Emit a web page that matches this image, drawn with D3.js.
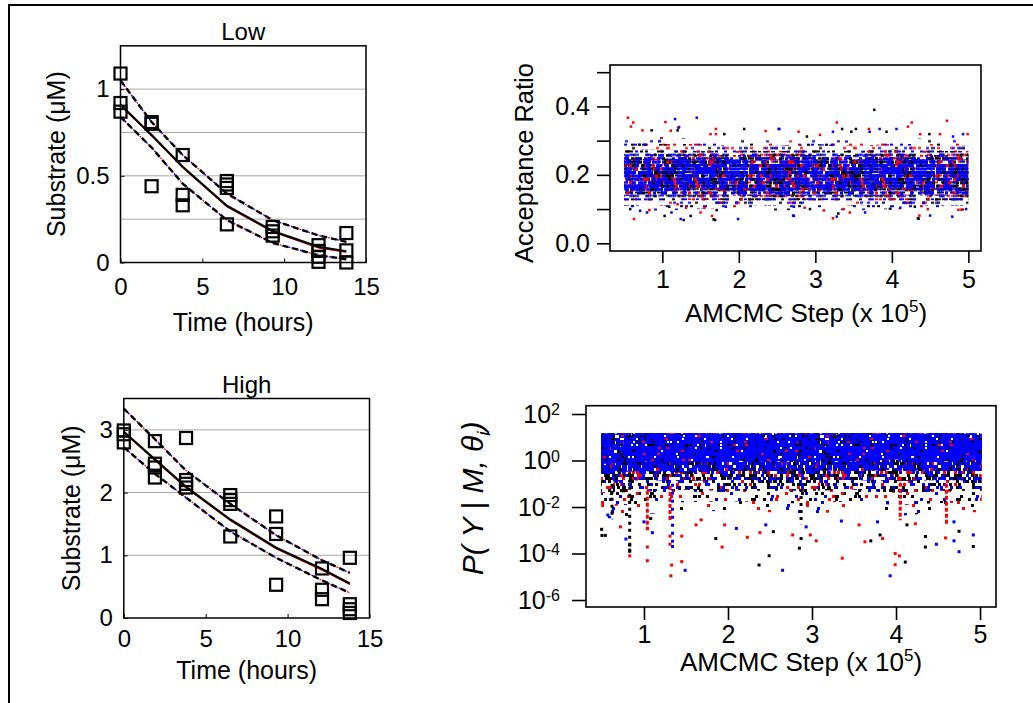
<!DOCTYPE html>
<html>
<head>
<meta charset="utf-8">
<script src="https://d3js.org/d3.v7.min.js"></script>
<style>
  body { margin: 0; background: #fff; }
  svg { display: block; font-family: "Liberation Sans", Arial, sans-serif; }
</style>
</head>
<body>
<script>
// ---- substrate panels (Low / High) ----
const lowTimes = [0, 1.9, 3.8, 6.5, 9.3, 12.1, 13.8];
const lowMean  = [0.91, 0.735, 0.552, 0.327, 0.182, 0.09, 0.065];
const lowUpper = [1.05, 0.81, 0.62, 0.398, 0.244, 0.156, 0.119];
const lowLower = [0.84, 0.663, 0.455, 0.245, 0.113, 0.042, 0.019];
const lowObs = [[0,1.09],[0,0.92],[0,0.87],[1.9,0.81],[1.9,0.80],[1.9,0.44],[3.8,0.62],[3.8,0.39],
  [3.8,0.33],[6.5,0.47],[6.5,0.45],[6.5,0.43],[6.5,0.22],[9.3,0.205],[9.3,0.18],[9.3,0.155],
  [12.1,0.1],[12.1,0.067],[12.1,0.033],[12.1,0.004],[13.8,0.17],[13.8,0.07],[13.8,0.0]];

const highTimes = [0, 1.9, 3.8, 6.5, 9.3, 12.1, 13.8];
const highMean  = [2.97, 2.53, 2.09, 1.57, 1.12, 0.78, 0.55];
const highUpper = [3.34, 2.85, 2.35, 1.82, 1.32, 0.92, 0.72];
const highLower = [2.72, 2.3, 1.92, 1.38, 0.96, 0.6, 0.4];
const highObs = [[0,2.99],[0,2.93],[0,2.8],[1.9,2.82],[1.9,2.46],[1.9,2.4],[1.9,2.24],[3.8,2.87],
  [3.8,2.2],[3.8,2.14],[3.8,2.08],[6.5,1.96],[6.5,1.88],[6.5,1.82],[6.5,1.3],[9.3,1.62],[9.3,1.34],
  [9.3,0.53],[12.1,0.79],[12.1,0.45],[12.1,0.3],[13.8,0.96],[13.8,0.22],[13.8,0.14],[13.8,0.08]];

const timeTicks = [0, 5, 10, 15];

// ---- acceptance ratio panel: nested density envelopes of the sample cloud ----
const accBandX = [0.5, 1.0, 1.5, 2.0, 2.5, 3.0, 3.5, 4.0, 4.5, 5.0];
const accHi1 = [0.315, 0.31, 0.305, 0.305, 0.3, 0.305, 0.3, 0.31, 0.305, 0.305];
const accLo1 = [0.095, 0.095, 0.1, 0.1, 0.095, 0.1, 0.095, 0.1, 0.095, 0.095];
const accHi2 = [0.295, 0.29, 0.29, 0.285, 0.285, 0.29, 0.285, 0.29, 0.29, 0.285];
const accLo2 = [0.11, 0.11, 0.115, 0.112, 0.11, 0.115, 0.11, 0.115, 0.11, 0.11];
const accHi3 = [0.275, 0.275, 0.27, 0.27, 0.27, 0.272, 0.27, 0.275, 0.27, 0.27];
const accLo3 = [0.125, 0.122, 0.127, 0.125, 0.125, 0.127, 0.122, 0.125, 0.125, 0.125];
const accHi4 = [0.26, 0.262, 0.258, 0.258, 0.26, 0.258, 0.258, 0.262, 0.258, 0.258];
const accLo4 = [0.138, 0.137, 0.14, 0.138, 0.137, 0.14, 0.137, 0.138, 0.14, 0.138];
const accHi5 = [0.245, 0.248, 0.245, 0.245, 0.245, 0.245, 0.245, 0.248, 0.245, 0.245];
const accLo5 = [0.155, 0.152, 0.157, 0.155, 0.152, 0.157, 0.152, 0.155, 0.157, 0.155];

// isolated samples outside the cloud
const accRed = [[0.55,0.367],[0.62,0.353],[0.59,0.341],[1.04,0.354],[1.11,0.329],[1.22,0.34],[1.7,0.334],
  [1.7,0.319],[1.63,0.319],[2.35,0.328],[0.74,0.33],[3.28,0.353],[4.26,0.353],[4.72,0.358],[4.21,0.341],
  [3.7,0.334],[4.37,0.319],[4.99,0.319],[3.06,0.317],[2.78,0.326],[4.63,0.319],[0.63,0.071],[1.65,0.08],
  [1.5,0.09],[0.83,0.097],[1.31,0.104],[1.55,0.104],[1.2,0.114],[3.23,0.073],[3.45,0.09],[3.11,0.096],
  [3.37,0.1],[4.36,0.081],[4.87,0.098],[4.91,0.098],[2.86,0.104],[4.47,0.1]];
const accBlue = [[1.166,0.363],[1.45,0.367],[1.21,0.338],[2.53,0.334],[3.84,0.334],[3.71,0.326],[4.06,0.334],
  [4.8,0.312],[4.93,0.319],[3.23,0.326],[2.52,0.334],[1.24,0.071],[1.99,0.071],[2.72,0.08],[1.12,0.09],
  [0.8,0.09],[0.71,0.095],[1.83,0.107],[2.71,0.081],[3.28,0.078],[3.65,0.09],[4.5,0.081],[4.79,0.078],
  [4.97,0.1],[4.11,0.104],[2.72,0.107]];
const accBlack = [[1.2,0.33],[2.07,0.334],[0.86,0.33],[1.81,0.319],[3.77,0.39],[3.35,0.334],[3.53,0.334],
  [3.93,0.326],[4.49,0.319],[2.89,0.312],[3.47,0.326],[1.28,0.068],[1.69,0.068],[1.03,0.08],[1.37,0.08],
  [0.58,0.1],[1.71,0.097],[1.09,0.107],[4.34,0.073],[2.93,0.1],[3.98,0.101],[4.3,0.107],[4.35,0.072],
  [3.3,0.087],[1.67,0.07]];

const stepTicks = [1, 2, 3, 4, 5];
const accTicks = [0, 0.1, 0.2, 0.3, 0.4, 0.5];
const accLabelled = [0, 0.2, 0.4];

// ---- likelihood panel: nested density envelopes (top edge is flat) ----
const likBandX = [0.49, 1.0, 1.5, 2.0, 2.5, 3.0, 3.5, 4.0, 4.5, 5.02];
const likTop   = [15, 15, 15, 15, 15, 15, 15, 15, 15, 15];
const likLo1 = [0.003, 0.005, 0.006, 0.007, 0.006, 0.005, 0.007, 0.004, 0.006, 0.006];
const likLo2 = [0.01, 0.014, 0.016, 0.018, 0.015, 0.014, 0.018, 0.012, 0.015, 0.015];
const likLo3 = [0.04, 0.045, 0.055, 0.05, 0.05, 0.05, 0.055, 0.04, 0.05, 0.05];
const likLo4 = [0.12, 0.14, 0.13, 0.15, 0.14, 0.15, 0.14, 0.13, 0.14, 0.14];
const likLo5 = [0.28, 0.35, 0.3, 0.38, 0.35, 0.38, 0.35, 0.4, 0.35, 0.35];
const likLo6 = [0.7, 0.9, 0.8, 1.0, 0.9, 1.0, 0.9, 1.1, 0.9, 1.0];

const likBlackStreaks = [[0.83, 0.3, 8e-5], [2.87, 0.06, 1.8e-3], [0.62, 0.1, 3e-3]];
const likRedStreaks   = [[1.04, 0.05, 1e-3], [1.31, 0.08, 2.7e-3], [4.05, 0.2, 2.7e-3], [4.6, 0.1, 1.6e-3]];
const likBlueStreaks  = [[1.34, 0.1, 2e-4]];

const likBlack = [[0.496,1.1e-3],[0.5,6e-4],[0.54,6e-4],[0.83,2.3e-4],[0.83,1.4e-4],[1.855,4.4e-4],
  [2.37,3.2e-5],[1.08,3.2e-3],[2.49,8e-5],[2.85,1.7e-4],[3.7,3.5e-4],[3.81,6.3e-4],[4.11,4.3e-5],
  [4.35,1.9e-4],[2.54,8.7e-4],[2.87,4.4e-4],[4.13,1.7e-3],[4.35,5.4e-4],[4.92,2e-4],[4.75,9e-4]];
const likRed = [[1.04,1.9e-4],[0.83,7.9e-5],[1.04,4.9e-5],[1.32,1.1e-5],[1.33,3.2e-5],[1.31,2.5e-4],
  [1.31,5.6e-4],[1.45,5.6e-4],[1.45,4.5e-5],[1.93,1.9e-4],[2.23,5e-4],[1.04,1.2e-3],[1.96,1.7e-3],
  [1.62,1.7e-3],[1.68,2.8e-3],[2.98,6.3e-4],[3.05,3.5e-4],[3.36,6.3e-5],[3.63,3.2e-4],[3.84,4.4e-4],
  [3.99,1e-4],[4.04,7.9e-5],[3.99,3.3e-5],[4.59,4.7e-4],[2.38,7.9e-4],[2.77,6.3e-4],[3.56,1.7e-3],
  [4.23,1.9e-3],[0.72,1.4e-3]];
const likBlue = [[0.785,4.2e-4],[1.34,2e-4],[1.49,1.9e-5],[1.1,7.9e-4],[2.1,1.2e-3],[1.0,2.3e-3],
  [0.57,4.5e-3],[2.65,1.9e-5],[3.93,1.1e-5],[4.48,2.5e-4],[4.69,3.5e-4],[4.75,1.2e-4],[2.93,1.4e-3],
  [2.45,1.7e-3],[3.35,2.5e-3],[3.78,2.3e-3],[4.69,2.3e-3],[4.92,6.3e-4]];
const likTicks = [1e2, 1, 1e-2, 1e-4, 1e-6];

// ---------------------------------------------------------------
const width = 1033, height = 703;
const RED = "#ff0000", BLUE = "#0000ff", BLACK = "#000000", WHITE = "#ffffff";

const svg = d3.select("body").append("svg")
  .attr("width", width).attr("height", height);
const defs = svg.append("defs");

// outer frame (only left and top edges show)
svg.append("rect").attr("x", 9).attr("y", 5).attr("width", width + 20).attr("height", height + 20)
  .attr("fill", "none").attr("stroke", "#000").attr("stroke-width", 2);

function substratePanel(o) {
  const x = d3.scaleLinear().domain([0, 15]).range([o.left, o.right]);
  const y = d3.scaleLinear().domain([0, o.yMax]).range([o.bottom, o.top]);
  const g = svg.append("g");

  g.selectAll("line.grid").data(o.grid).join("line")
    .attr("x1", o.left).attr("x2", o.right)
    .attr("y1", d => y(d)).attr("y2", d => y(d))
    .attr("stroke", "#a8a8a8").attr("stroke-width", 1);

  const line = d3.line().x((d, i) => x(o.times[i])).y(d => y(d));
  [o.upper, o.lower].forEach(s => {
    g.append("path").attr("d", line(s)).attr("fill", "none")
      .attr("stroke", RED).attr("stroke-width", 1.2).attr("stroke-dasharray", "2 4")
      .attr("stroke-dashoffset", 3);
    g.append("path").attr("d", line(s)).attr("fill", "none")
      .attr("stroke", BLUE).attr("stroke-width", 1.4).attr("stroke-dasharray", "2 4");
    g.append("path").attr("d", line(s)).attr("fill", "none")
      .attr("stroke", BLACK).attr("stroke-width", 2.4).attr("stroke-dasharray", "6 4");
  });
  g.append("path").attr("d", line(o.mean)).attr("fill", "none")
    .attr("stroke", RED).attr("stroke-width", 1).attr("transform", "translate(0,1.2)");
  g.append("path").attr("d", line(o.mean)).attr("fill", "none")
    .attr("stroke", BLACK).attr("stroke-width", 2.2);

  g.selectAll("rect.obs").data(o.obs).join("rect")
    .attr("x", d => x(d[0]) - 6).attr("y", d => y(d[1]) - 6)
    .attr("width", 12).attr("height", 12)
    .attr("fill", "none").attr("stroke", BLACK).attr("stroke-width", 2.2);

  g.append("rect").attr("x", o.left).attr("y", o.top)
    .attr("width", o.right - o.left).attr("height", o.bottom - o.top)
    .attr("fill", "none").attr("stroke", BLACK).attr("stroke-width", 1.5);

  const xa = g.append("g").attr("transform", `translate(0,${o.bottom})`)
    .call(d3.axisBottom(x).tickValues(timeTicks).tickFormat(d3.format("d"))
      .tickSizeInner(-4).tickSizeOuter(0).tickPadding(o.xPad));
  const ya = g.append("g").attr("transform", `translate(${o.left},0)`)
    .call(d3.axisLeft(y).tickValues(o.yTicks).tickFormat(d3.format("~g"))
      .tickSizeInner(-4).tickSizeOuter(0).tickPadding(11));
  [xa, ya].forEach(a => {
    a.select(".domain").remove();
    a.selectAll("text").attr("font-size", 24).attr("font-family", "Liberation Sans, Arial").attr("fill", "#000");
    a.selectAll("line").attr("stroke", "#000");
  });

  g.append("text").attr("x", (o.left + o.right) / 2).attr("y", o.top - 6)
    .attr("text-anchor", "middle").attr("font-size", 24).text(o.title);
  g.append("text").attr("x", (o.left + o.right) / 2).attr("y", o.bottom + o.labelDy)
    .attr("text-anchor", "middle").attr("font-size", 25).text("Time (hours)");
  g.append("text").attr("transform", `translate(${o.labelX},${(o.top + o.bottom) / 2}) rotate(-90)`)
    .attr("text-anchor", "middle").attr("font-size", 25).text("Substrate (\u03bcM)");
}

substratePanel({ left: 120.5, right: 366, top: 45.8, bottom: 262.5, yMax: 1.25,
  grid: [0.25, 0.5, 0.75, 1], yTicks: [0, 0.5, 1], times: lowTimes, mean: lowMean,
  upper: lowUpper, lower: lowLower, obs: lowObs, title: "Low", labelX: 65, xPad: 15, labelDy: 68 });
substratePanel({ left: 123.8, right: 369.5, top: 398.5, bottom: 618, yMax: 3.5,
  grid: [1, 2, 3], yTicks: [0, 1, 2, 3], times: highTimes, mean: highMean,
  upper: highUpper, lower: highLower, obs: highObs, title: "High", labelX: 80, xPad: 12, labelDy: 61 });

// Speckle texture for the heavily overplotted sample clouds. This is fill styling only
// (a repeating tile of dots from a fixed hash), the cloud's extent comes from the envelopes above.
function hash(k) { const t = Math.sin(k * 12.9898 + 4.1414) * 43758.5453; return t - Math.floor(t); }
let texSeed = 1;
function speckle(tw, th, cover, dw, dh, color, row) {
  const id = "tex" + texSeed;
  const n = Math.round(-Math.log(1 - cover) * tw * th / (dw * dh));
  const cells = d3.range(n).map(i => {
    const k = texSeed * 10007 + i * 2;
    return [Math.floor(hash(k) * tw), Math.floor(hash(k + 1) * th / row) * row];
  });
  texSeed++;
  defs.append("pattern").attr("id", id).attr("patternUnits", "userSpaceOnUse")
    .attr("width", tw).attr("height", th)
    .selectAll("rect").data(cells).join("rect")
    .attr("x", d => d[0]).attr("y", d => d[1]).attr("width", dw).attr("height", dh).attr("fill", color);
  return `url(#${id})`;
}

function band(g, x, y, bx, lo, hi, fills) {
  const area = d3.area().x((d, i) => x(bx[i])).y0((d, i) => y(lo[i])).y1(d => y(d));
  fills.forEach(f => g.append("path").attr("d", area(hi)).attr("fill", f));
}

function squares(g, data, x, y, color, s) {
  g.append("g").selectAll("rect").data(data).join("rect")
    .attr("x", d => x(d[0]) - s / 2).attr("y", d => y(d[1]) - s / 2)
    .attr("width", s).attr("height", s).attr("fill", color);
}

function styleAxis(a, size) {
  a.select(".domain").remove();
  a.selectAll("text").attr("font-size", size).attr("font-family", "Liberation Sans, Arial").attr("fill", "#000");
  a.selectAll("line").attr("stroke", "#000").attr("stroke-width", 1.6);
}

// ---- Acceptance ratio panel ----
{
  const left = 610, right = 981, top = 65, bottom = 251;
  const x = d3.scaleLinear().domain([0.316, 5.165]).range([left, right]);
  const y = d3.scaleLinear().domain([-0.0225, 0.521]).range([bottom, top]);
  const g = svg.append("g");
  const row = 3.42, tw = 187, th = row * 12;
  const t = (c, dw, dh, col) => speckle(tw, th, c, dw, dh, col, row);

  band(g, x, y, accBandX, accLo1, accHi1, [t(0.03, 3, 2, BLACK), t(0.025, 3, 2, RED), t(0.035, 3, 2, BLUE)]);
  band(g, x, y, accBandX, accLo2, accHi2, [t(0.06, 3, 2, BLACK), t(0.045, 3, 2, RED), t(0.07, 3, 2, BLUE)]);
  band(g, x, y, accBandX, accLo3, accHi3, [t(0.12, 3, 2, BLACK), t(0.07, 3, 2, RED), t(0.15, 3, 2, BLUE)]);
  band(g, x, y, accBandX, accLo4, accHi4, [t(0.22, 3, 3, BLACK), t(0.11, 3, 3, RED), t(0.3, 3, 3, BLUE)]);
  band(g, x, y, accBandX, accLo5, accHi5, [t(0.3, 3, 3, BLACK), t(0.15, 3, 3, RED), t(0.5, 4, 3, BLUE)]);
  squares(g, accBlack, x, y, BLACK, 2.5);
  squares(g, accRed, x, y, RED, 2.5);
  squares(g, accBlue, x, y, BLUE, 2.5);

  g.append("rect").attr("x", left).attr("y", top).attr("width", right - left).attr("height", bottom - top)
    .attr("fill", "none").attr("stroke", "#000").attr("stroke-width", 1.6);

  const ya = g.append("g").attr("transform", `translate(${left},0)`)
    .call(d3.axisLeft(y).tickValues(accTicks).tickSize(13).tickPadding(7)
      .tickFormat(d => accLabelled.some(v => Math.abs(v - d) < 1e-9) ? d3.format(".1f")(d) : ""));
  const xa = g.append("g").attr("transform", `translate(0,${bottom})`)
    .call(d3.axisBottom(x).tickValues(stepTicks).tickSize(12).tickPadding(7).tickFormat(d3.format("d")));
  styleAxis(ya, 25); styleAxis(xa, 25);

  g.append("text").attr("transform", `translate(533,${(top + bottom) / 2 + 5}) rotate(-90)`)
    .attr("text-anchor", "middle").attr("font-size", 25.5).text("Acceptance Ratio");
  const xl = g.append("text").attr("x", 806).attr("y", 322).attr("text-anchor", "middle").attr("font-size", 26);
  xl.append("tspan").text("AMCMC Step (x 10");
  xl.append("tspan").attr("dy", -10).attr("font-size", 17).text("5");
  xl.append("tspan").attr("dy", 10).text(")");
}

// ---- Likelihood panel ----
{
  const left = 586, right = 996, top = 405.7, bottom = 607;
  const x = d3.scaleLinear().domain([0.31, 5.19]).range([left, right]);
  const y = d3.scaleLog().domain([Math.pow(10, -6.3), Math.pow(10, 2.357)]).range([bottom, top]);
  const g = svg.append("g");
  const tw = 205, th = 60;
  const t = (c, dw, dh, col) => speckle(tw, th, c, dw, dh, col, 3);

  band(g, x, y, likBandX, likLo1, likTop, [t(0.03, 3, 3, BLACK), t(0.02, 3, 3, RED), t(0.03, 3, 3, BLUE)]);
  band(g, x, y, likBandX, likLo2, likTop, [t(0.06, 3, 3, BLACK), t(0.035, 3, 3, RED), t(0.05, 3, 3, BLUE)]);
  band(g, x, y, likBandX, likLo3, likTop, [t(0.18, 3, 3, BLACK), t(0.06, 3, 3, RED), t(0.1, 3, 3, BLUE)]);
  band(g, x, y, likBandX, likLo4, likTop, [t(0.3, 3, 3, BLACK), t(0.07, 3, 3, RED), t(0.25, 3, 3, BLUE)]);
  band(g, x, y, likBandX, likLo5, likTop, [t(0.25, 3, 3, BLACK), t(0.6, 3, 3, BLUE)]);
  band(g, x, y, likBandX, likLo6, likTop, [t(0.88, 3, 3, BLUE), t(0.07, 3, 2, BLACK), t(0.04, 2, 2, WHITE), t(0.03, 3, 2, RED)]);

  const streak = (data, color, dash) => g.append("g").selectAll("line").data(data).join("line")
    .attr("x1", d => x(d[0])).attr("x2", d => x(d[0]))
    .attr("y1", d => y(d[1])).attr("y2", d => y(d[2]))
    .attr("stroke", color).attr("stroke-width", 3).attr("stroke-dasharray", dash);
  streak(likBlackStreaks, BLACK, "3 4");
  streak(likRedStreaks, RED, "4 2");
  streak(likBlueStreaks, BLUE, "3 5");

  squares(g, likBlack, x, y, BLACK, 3);
  squares(g, likRed, x, y, RED, 3);
  squares(g, likBlue, x, y, BLUE, 3);

  g.append("rect").attr("x", left).attr("y", top).attr("width", right - left).attr("height", bottom - top)
    .attr("fill", "none").attr("stroke", "#000").attr("stroke-width", 1.6);

  const ya = g.append("g").attr("transform", `translate(${left},0)`)
    .call(d3.axisLeft(y).tickValues(likTicks).tickSize(14).tickPadding(12).tickFormat(() => ""));
  const xa = g.append("g").attr("transform", `translate(0,${bottom})`)
    .call(d3.axisBottom(x).tickValues(stepTicks).tickSize(13).tickPadding(5).tickFormat(d3.format("d")));
  styleAxis(ya, 25); styleAxis(xa, 25);
  ya.selectAll(".tick text").each(function (d) {
    const tx = d3.select(this);
    tx.append("tspan").text("10");
    tx.append("tspan").attr("dy", "-0.45em").attr("font-size", 16).text(Math.round(Math.log10(d)));
  });

  const yl = g.append("text").attr("transform", `translate(483,${(top + bottom) / 2 - 8}) rotate(-90)`)
    .attr("text-anchor", "middle").attr("font-size", 30).attr("font-style", "italic");
  yl.append("tspan").text("P( Y | M, \u03b8");
  yl.append("tspan").attr("dy", 7).attr("font-size", 19).text("i");
  yl.append("tspan").attr("dy", -7).text(")");
  const xl = g.append("text").attr("x", 801).attr("y", 671).attr("text-anchor", "middle").attr("font-size", 26);
  xl.append("tspan").text("AMCMC Step (x 10");
  xl.append("tspan").attr("dy", -10).attr("font-size", 17).text("5");
  xl.append("tspan").attr("dy", 10).text(")");
}
</script>
</body>
</html>
